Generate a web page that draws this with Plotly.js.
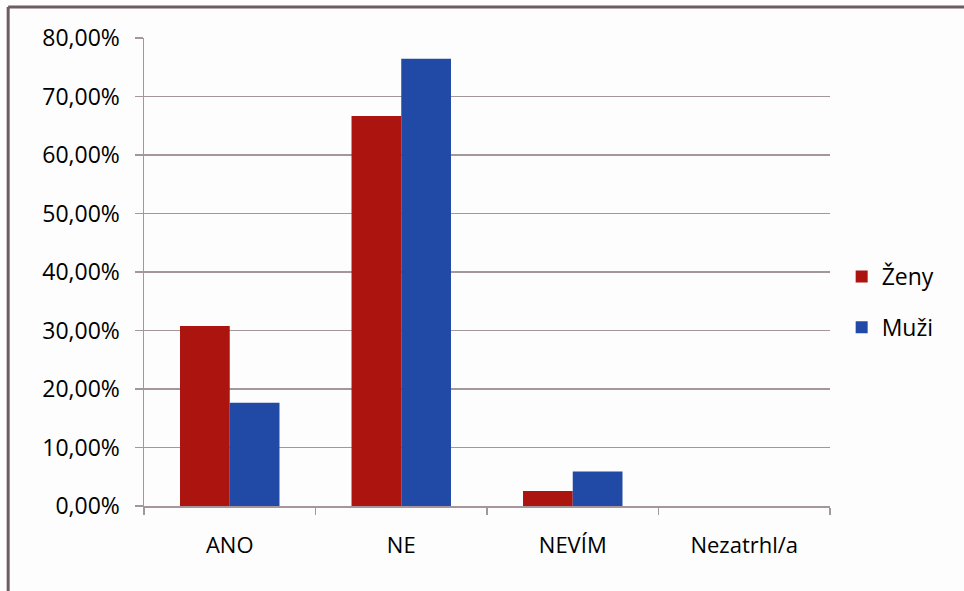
<!DOCTYPE html>
<html>
<head>
<meta charset="utf-8">
<script src="https://cdn.plot.ly/plotly-3.0.1.min.js"></script>
<style>
  html, body { margin: 0; padding: 0; background: #ffffff; }
  #chart { width: 964px; height: 591px; }
</style>
</head>
<body>
<div id="chart"></div>
<script>
const categories = ["ANO", "NE", "NEVÍM", "Nezatrhl/a"];
const zenyValues = [30.77, 66.67, 2.56, 0];
const muziValues = [17.65, 76.47, 5.88, 0];
const seriesNames = ["Ženy", "Muži"];
const yTicks = [0, 10, 20, 30, 40, 50, 60, 70, 80];
const yTickLabels = yTicks.map(v => v.toFixed(2).replace(".", ",") + "%");

const FONT = "Open Sans, Liberation Sans, sans-serif";
const GRID = "#a3979c";

const traces = [
  { type: "bar", name: seriesNames[0], x: categories, y: zenyValues,
    marker: { color: "#ac1410" }, legendgroup: "a", hoverinfo: "skip" },
  { type: "bar", name: seriesNames[1], x: categories, y: muziValues,
    marker: { color: "#2149a6" }, legendgroup: "b", hoverinfo: "skip" }
];

const layout = {
  width: 964, height: 591,
  margin: { l: 144, r: 134, t: 38, b: 85 },
  paper_bgcolor: "#fdfdfd", plot_bgcolor: "#fdfdfd",
  font: { family: FONT, size: 22, color: "#000000" },
  barmode: "group",
  bargap: 0.42,
  bargroupgap: 0,
  showlegend: true,
  legend: {
    x: 1.017, xanchor: "left", y: 0.436, yanchor: "middle",
    font: { family: FONT, size: 23, color: "#000000" },
    tracegroupgap: 18, bgcolor: "rgba(0,0,0,0)", itemwidth: 30
  },
  xaxis: {
    type: "category",
    showline: true, linecolor: GRID, linewidth: 1.5,
    ticks: "outside", tickson: "boundaries", ticklen: 7, tickcolor: GRID, tickwidth: 1.5,
    showgrid: false, zeroline: false,
    ticklabelstandoff: 19,
    tickfont: { family: FONT, size: 22, color: "#000000" }
  },
  yaxis: {
    range: [0, 80],
    tickmode: "array",
    tickvals: yTicks,
    ticktext: yTickLabels,
    showline: true, linecolor: GRID, linewidth: 1.5,
    ticks: "outside", ticklen: 8, tickcolor: GRID, tickwidth: 1.5,
    showgrid: true, gridcolor: GRID, gridwidth: 1.5,
    zeroline: false,
    ticklabelstandoff: 10,
    tickfont: { family: FONT, size: 23, color: "#000000" }
  },
  shapes: [
    { type: "line", xref: "paper", yref: "paper",
      x0: -0.198, x1: 1.2, y0: 1.066, y1: 1.066,
      line: { color: "#6e5c62", width: 3 } },
    { type: "line", xref: "paper", yref: "paper",
      x0: -0.198, x1: -0.198, y0: 1.066, y1: -0.2,
      line: { color: "#6e5c62", width: 3 } }
  ]
};

Plotly.newPlot("chart", traces, layout, { displayModeBar: false, staticPlot: true });
</script>
</body>
</html>
